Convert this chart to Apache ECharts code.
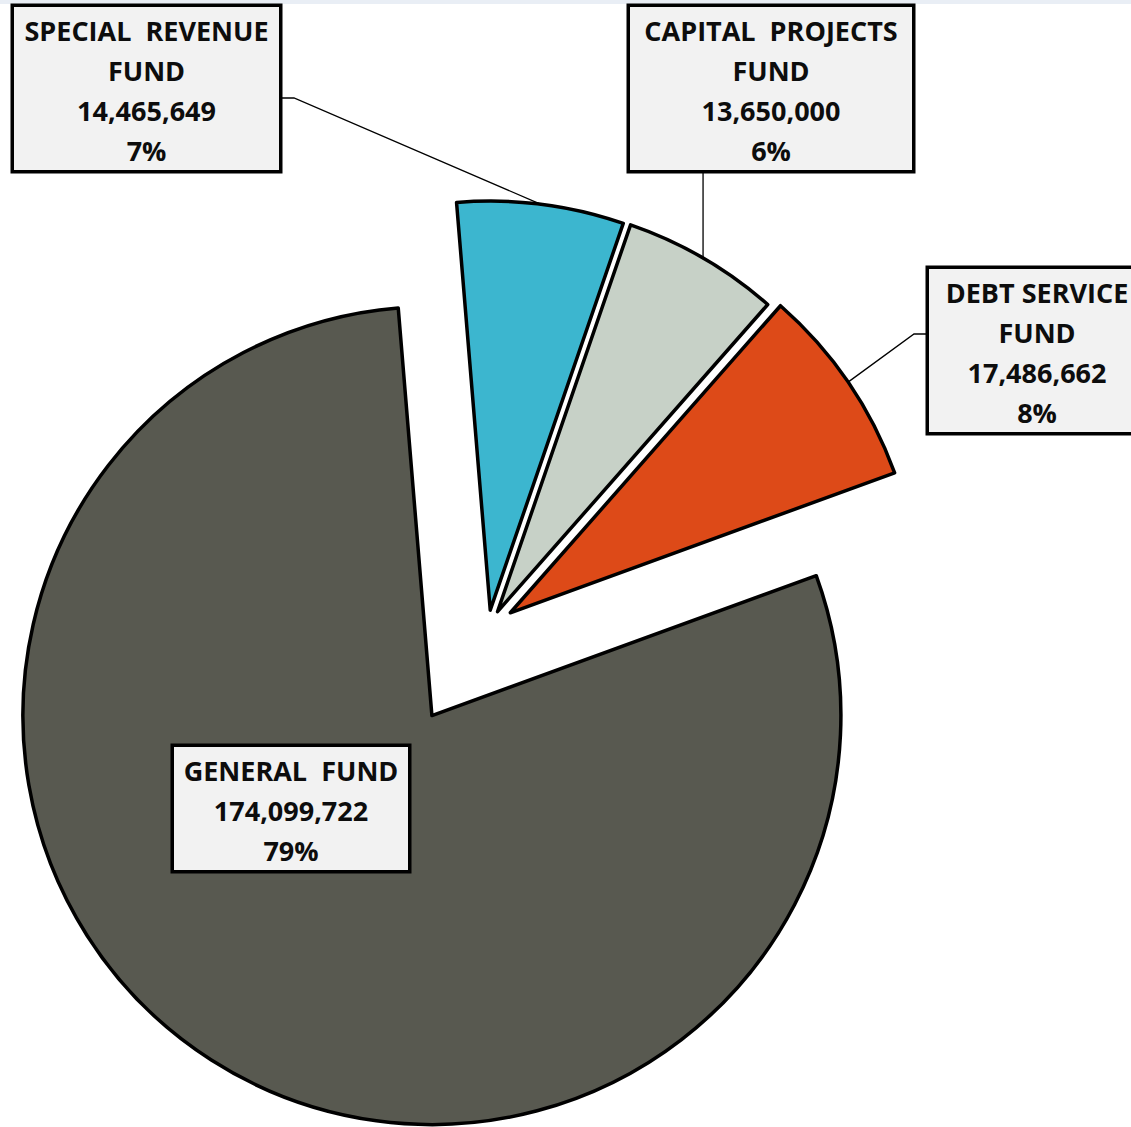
<!DOCTYPE html>
<html>
<head>
<meta charset="utf-8">
<script src="https://cdn.jsdelivr.net/npm/echarts@6/dist/echarts.min.js"></script>
<style>
  html, body { margin: 0; padding: 0; background: #fff; }
  #main { width: 1131px; height: 1127px; }
</style>
</head>
<body>
<div id="main"></div>
<script>
// data
const categories = ['GENERAL FUND', 'SPECIAL REVENUE FUND', 'CAPITAL PROJECTS FUND', 'DEBT SERVICE FUND'];
const labelTitles = ['GENERAL  FUND', 'SPECIAL  REVENUE\nFUND', 'CAPITAL  PROJECTS\nFUND', 'DEBT SERVICE\nFUND'];
const amounts = [174099722, 14465649, 13650000, 17486662];

// look
const colors = ['#585950', '#3cb6cf', '#c7d1c7', '#dd4a18'];
const explode = [104, 18, 19, 27];   // how far each slice is pulled out (Excel explode)
const CENTER = [488, 628];
const RADIUS = 409;
const START = 20;                    // first slice starts at 70deg clockwise from 12 o'clock

// label boxes: center x, top y, width
const boxes = [
  { cx: 291, top: 747, w: 234 },
  { cx: 146.5, top: 7, w: 265 },
  { cx: 771, top: 7, w: 282 },
  { cx: 1037, top: 269, w: 216 }
];

const total = amounts.reduce((a, b) => a + b, 0);

// middle angle of slice i (radians, math orientation)
function midAngle(i) {
  let before = 0;
  for (let k = 0; k < i; k++) before += amounts[k];
  return (START - 360 * (before + amounts[i] / 2) / total) * Math.PI / 180;
}

// each slice gets its own pie centre, pushed out along its bisector
function sliceCenter(i) {
  const a = midAngle(i);
  return [CENTER[0] + explode[i] * Math.cos(a), CENTER[1] - explode[i] * Math.sin(a)];
}

function edgePoint(i) {
  const a = midAngle(i);
  const r = RADIUS + explode[i];
  return [CENTER[0] + r * Math.cos(a), CENTER[1] - r * Math.sin(a)];
}

function connector(i) {
  const p = edgePoint(i);
  const b = boxes[i];
  if (i === 1) return [p, [b.cx + b.w / 2 + 15, 98], [b.cx + b.w / 2, 98]];
  if (i === 2) return [p, [p[0], 170], [p[0], 170]];
  return [p, [b.cx - b.w / 2 - 15, 334], [b.cx - b.w / 2, 334]];
}

function makeSeries(idx) {
  return {
    type: 'pie',
    center: sliceCenter(idx),
    radius: [0, RADIUS],
    startAngle: START,
    clockwise: true,
    percentPrecision: 0,
    avoidLabelOverlap: false,
    emphasis: { disabled: true },
    itemStyle: { borderColor: '#000', borderWidth: 3.5 },
    label: {
      show: true,
      color: '#0d0d0d',
      fontFamily: 'Open Sans',
      fontWeight: 'bold',
      fontSize: 27,
      lineHeight: 40,
      backgroundColor: '#f2f2f2',
      borderColor: '#000',
      borderWidth: 3.5,
      padding: [3, 3, 0, 3],
      formatter: (p) => labelTitles[p.dataIndex] + '\n' +
        p.value.toLocaleString('en-US') + '\n' + p.percent + '%'
    },
    labelLine: { show: true, lineStyle: { color: '#000', width: 1.3 } },
    labelLayout: (params) => {
      const i = params.dataIndex;
      const b = boxes[i];
      return {
        x: b.cx,
        y: b.top,
        align: 'center',
        verticalAlign: 'top',
        labelLinePoints: i === 0 ? undefined : connector(i)
      };
    },
    data: categories.map((name, i) => {
      if (i !== idx) {
        return {
          name: name, value: amounts[i],
          itemStyle: { color: 'rgba(0,0,0,0)', borderWidth: 0 },
          label: { show: false }, labelLine: { show: false }
        };
      }
      return {
        name: name, value: amounts[i],
        itemStyle: { color: colors[i] },
        label: { width: boxes[i].w - 6 },
        labelLine: { show: i !== 0 }
      };
    })
  };
}

const chart = echarts.init(document.getElementById('main'), null, { renderer: 'svg' });
chart.setOption({
  animation: false,
  backgroundColor: '#fff',
  graphic: [{
    type: 'rect', left: 0, top: 0, z: -1,
    shape: { width: 1131, height: 4 },
    style: { fill: '#e9eef5' }
  }],
  series: categories.map((c, i) => makeSeries(i))
});
</script>
</body>
</html>
